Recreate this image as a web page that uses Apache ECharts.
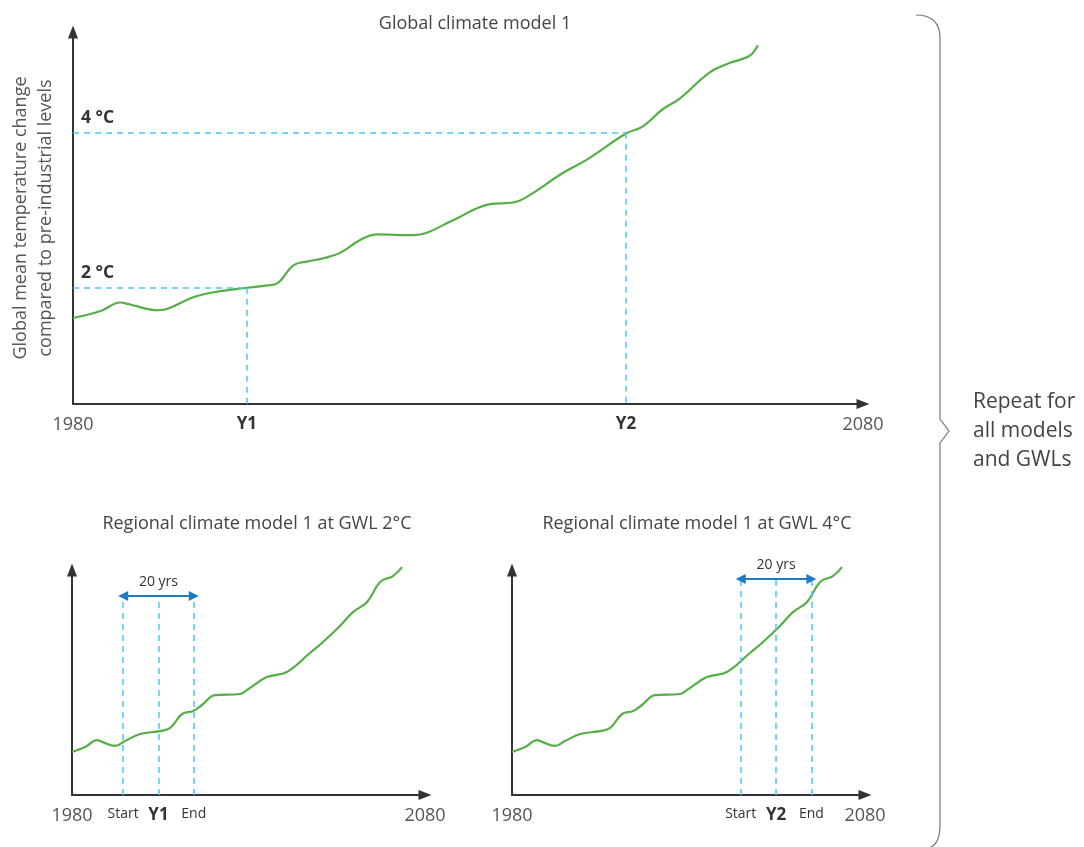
<!DOCTYPE html>
<html>
<head>
<meta charset="utf-8">
<title>Climate models at GWL</title>
<script src="https://cdn.jsdelivr.net/npm/echarts@6/dist/echarts.min.js"></script>
<style>
    html, body { margin: 0; padding: 0; background: #fff; }
    #charts { width: 1084px; height: 847px; }
</style>
</head>
<body>
<div id="charts"></div>
<script>
    // global climate model 1: year, °C above pre-industrial
    var globalYears = [1980, 1983.5, 1986, 1987, 1990.7, 1992, 1995.3, 1998.3, 2002, 2004.6, 2005.9, 2007.9, 2009.7,
        2011.7, 2013.8, 2016.4, 2018.5, 2021.4, 2023.1, 2024.8, 2028.1, 2032.8, 2035.7, 2037.4, 2042, 2045,
        2050, 2052.1, 2054.6, 2056.8, 2060.6, 2063.1, 2065.6, 2066.7];
    var globalTemps = [1.61, 1.70, 1.81, 1.79, 1.71, 1.73, 1.88, 1.95, 2.00, 2.03, 2.06, 2.29, 2.34,
        2.38, 2.45, 2.62, 2.69, 2.68, 2.68, 2.71, 2.87, 3.08, 3.10, 3.17, 3.48, 3.65,
        3.99, 4.08, 4.30, 4.44, 4.78, 4.90, 4.99, 5.13];

    // regional climate model 1 (same run in both lower panels), unitless
    var regionalYears = [1980, 1983.7, 1987.1, 1988.5, 1992.2, 1995, 1999.3, 2004.9, 2007.8, 2011.2, 2014.3, 2016.8,
        2020.5, 2027.6, 2029.6, 2035.2, 2040.9, 2047.4, 2051.1, 2055.9, 2059.6, 2063.6, 2067.3, 2070.9, 2073.5];
    var regionalValues = [1.91, 2.13, 2.44, 2.36, 2.18, 2.40, 2.71, 2.84, 2.98, 3.60, 3.73, 4.00,
        4.44, 4.49, 4.67, 5.24, 5.47, 6.31, 6.80, 7.51, 8.13, 8.58, 9.47, 9.73, 10.13];

    var gwlTemps = [2, 4];
    var gwlNames = ['Y1', 'Y2'];
    var gwlYears = [2002, 2050];
    var windowCentres = [2004.5, 2054.8];
    var windowLength = 20;
    var axisYears = [1980, 2080];
    var panelTitles = ['Global climate model 1', 'Regional climate model 1 at GWL 2°C', 'Regional climate model 1 at GWL 4°C'];

    var green = '#55ae46';
    var dashBlue = '#4cc8f2';
    var arrowBlue = '#1d7cc2';
    var font = '"Open Sans", "Noto Sans", sans-serif';

    function zip(xs, ys) {
        return xs.map(function (x, i) { return [x, ys[i]]; });
    }

    var topMin = 0.5;
    var bottomMin = 0;
    var arrowLevels = [8.84, 9.6];

    // dashed guides from GWL level across to the year it is reached, then down
    var globalGuides = [];
    gwlTemps.forEach(function (t, i) {
        globalGuides.push([{coord: [axisYears[0], t]}, {coord: [gwlYears[i], t]}]);
        globalGuides.push([{coord: [gwlYears[i], t]}, {coord: [gwlYears[i], topMin]}]);
    });

    function windowGuides(i) {
        var c = windowCentres[i], s = c - windowLength / 2, e = c + windowLength / 2, h = arrowLevels[i];
        return [
            [{coord: [s, bottomMin]}, {coord: [s, h]}],
            [{coord: [c, bottomMin]}, {coord: [c, h]}],
            [{coord: [e, bottomMin]}, {coord: [e, h]}],
            [{
                coord: [s, h], symbol: 'triangle', symbolSize: [10, 10],
                lineStyle: {type: 'solid', color: arrowBlue, width: 2},
                label: {show: true, formatter: windowLength + ' yrs', position: 'insideMiddleTop', distance: 7,
                    color: '#333', fontSize: 14, fontFamily: font}
            }, {coord: [e, h], symbol: 'triangle', symbolSize: [10, 10]}]
        ];
    }

    function xAxisFor(grid, max, marks) {
        return {
            gridIndex: grid, type: 'value', min: axisYears[0], max: max,
            splitLine: {show: false}, axisTick: {show: false},
            axisLine: {lineStyle: {color: '#333', width: 2}, symbol: ['none', 'triangle'], symbolSize: [10, 13]},
            axisLabel: {
                customValues: marks.values, margin: 12, fontFamily: font,
                formatter: function (v) {
                    var k = marks.values.indexOf(v);
                    return '{' + marks.styles[k] + '|' + marks.texts[k] + '}';
                },
                rich: {
                    n: {fontSize: 18, color: '#555', fontFamily: font},
                    b: {fontSize: 17, fontWeight: 'bold', color: '#333', fontFamily: font},
                    s: {fontSize: 14, color: '#333', fontFamily: font}
                }
            }
        };
    }

    function yAxisFor(grid, min, max) {
        return {
            gridIndex: grid, type: 'value', min: min, max: max,
            splitLine: {show: false}, axisTick: {show: false}, axisLabel: {show: false},
            axisLine: {show: true, lineStyle: {color: '#333', width: 2}, symbol: ['none', 'triangle'], symbolSize: [10, 13]}
        };
    }

    function regionalMarks(i) {
        var c = windowCentres[i];
        return {
            values: [axisYears[0], c - windowLength / 2, c, c + windowLength / 2, axisYears[1]],
            texts: [axisYears[0], 'Start', gwlNames[i], 'End', axisYears[1]],
            styles: ['n', 's', 'b', 's', 'n']
        };
    }

    var chart = echarts.init(document.getElementById('charts'));
    var topY = yAxisFor(0, topMin, 5.3);
    topY.name = 'Global mean temperature change\ncompared to pre-industrial levels';
    topY.nameLocation = 'middle';
    topY.nameRotate = 90;
    topY.nameGap = 15;
    topY.nameTextStyle = {fontSize: 18, color: '#555', lineHeight: 25, fontFamily: font};
    topY.axisLabel = {
        show: true, inside: true, customValues: gwlTemps, margin: 8, verticalAlign: 'bottom',
        padding: [0, 0, 6, 0], fontSize: 17.5, fontWeight: 'bold', color: '#333', fontFamily: font,
        formatter: function (v) { return v + ' °C'; }
    };

    var braceStyle = {fill: 'none', stroke: '#777', lineWidth: 1.2};

    chart.setOption({
        animation: false,
        textStyle: {fontFamily: font},
        title: [
            {text: panelTitles[0], left: 470, top: 10, textAlign: 'center'},
            {text: panelTitles[1], left: 252, top: 510, textAlign: 'center'},
            {text: panelTitles[2], left: 692, top: 510, textAlign: 'center'}
        ].map(function (t) {
            t.textStyle = {fontSize: 18, fontWeight: 'normal', color: '#444', fontFamily: font};
            return t;
        }),
        grid: [
            {left: 72, top: 32, width: 791, height: 372},
            {left: 72, top: 570, width: 353, height: 225},
            {left: 512, top: 570, width: 353, height: 225}
        ],
        xAxis: [
            xAxisFor(0, axisYears[1], {
                values: [axisYears[0], gwlYears[0], gwlYears[1], axisYears[1]],
                texts: [axisYears[0], gwlNames[0], gwlNames[1], axisYears[1]],
                styles: ['n', 'b', 'b', 'n']
            }),
            xAxisFor(1, axisYears[1], regionalMarks(0)),
            xAxisFor(2, axisYears[1], regionalMarks(1))
        ],
        yAxis: [topY, yAxisFor(1, bottomMin, 10), yAxisFor(2, bottomMin, 10)],
        series: [
            {
                type: 'line', xAxisIndex: 0, yAxisIndex: 0, data: zip(globalYears, globalTemps),
                smooth: 0.4, showSymbol: false, lineStyle: {color: green, width: 2.2}, z: 3,
                markLine: {silent: true, symbol: 'none', label: {show: false},
                    lineStyle: {color: dashBlue, type: [6, 5], width: 1.5}, data: globalGuides}
            },
            {
                type: 'line', xAxisIndex: 1, yAxisIndex: 1, data: zip(regionalYears, regionalValues),
                smooth: 0.4, showSymbol: false, clip: false, lineStyle: {color: green, width: 2.2}, z: 3,
                markLine: {silent: true, symbol: 'none', label: {show: false},
                    lineStyle: {color: dashBlue, type: [6, 5], width: 1.5}, data: windowGuides(0)}
            },
            {
                type: 'line', xAxisIndex: 2, yAxisIndex: 2, data: zip(regionalYears, regionalValues),
                smooth: 0.4, showSymbol: false, clip: false, lineStyle: {color: green, width: 2.2}, z: 3,
                markLine: {silent: true, symbol: 'none', label: {show: false},
                    lineStyle: {color: dashBlue, type: [6, 5], width: 1.5}, data: windowGuides(1)}
            }
        ],
        graphic: [
            {
                type: 'bezierCurve', silent: true, style: braceStyle,
                shape: {x1: 916, y1: 15, cpx1: 940, cpy1: 15, x2: 940, y2: 38}
            },
            {
                type: 'polyline', silent: true, style: braceStyle,
                shape: {points: [[940, 38], [940, 419], [949, 431], [940, 443], [940, 824]]}
            },
            {
                type: 'bezierCurve', silent: true, style: braceStyle,
                shape: {x1: 940, y1: 824, cpx1: 940, cpy1: 846, x2: 928, y2: 848}
            },
            {
                type: 'text', left: 973, top: 388, silent: true,
                style: {text: 'Repeat for\nall models\nand GWLs', fontSize: 21, lineHeight: 29, fill: '#444', fontFamily: font}
            }
        ]
    });
</script>
</body>
</html>
